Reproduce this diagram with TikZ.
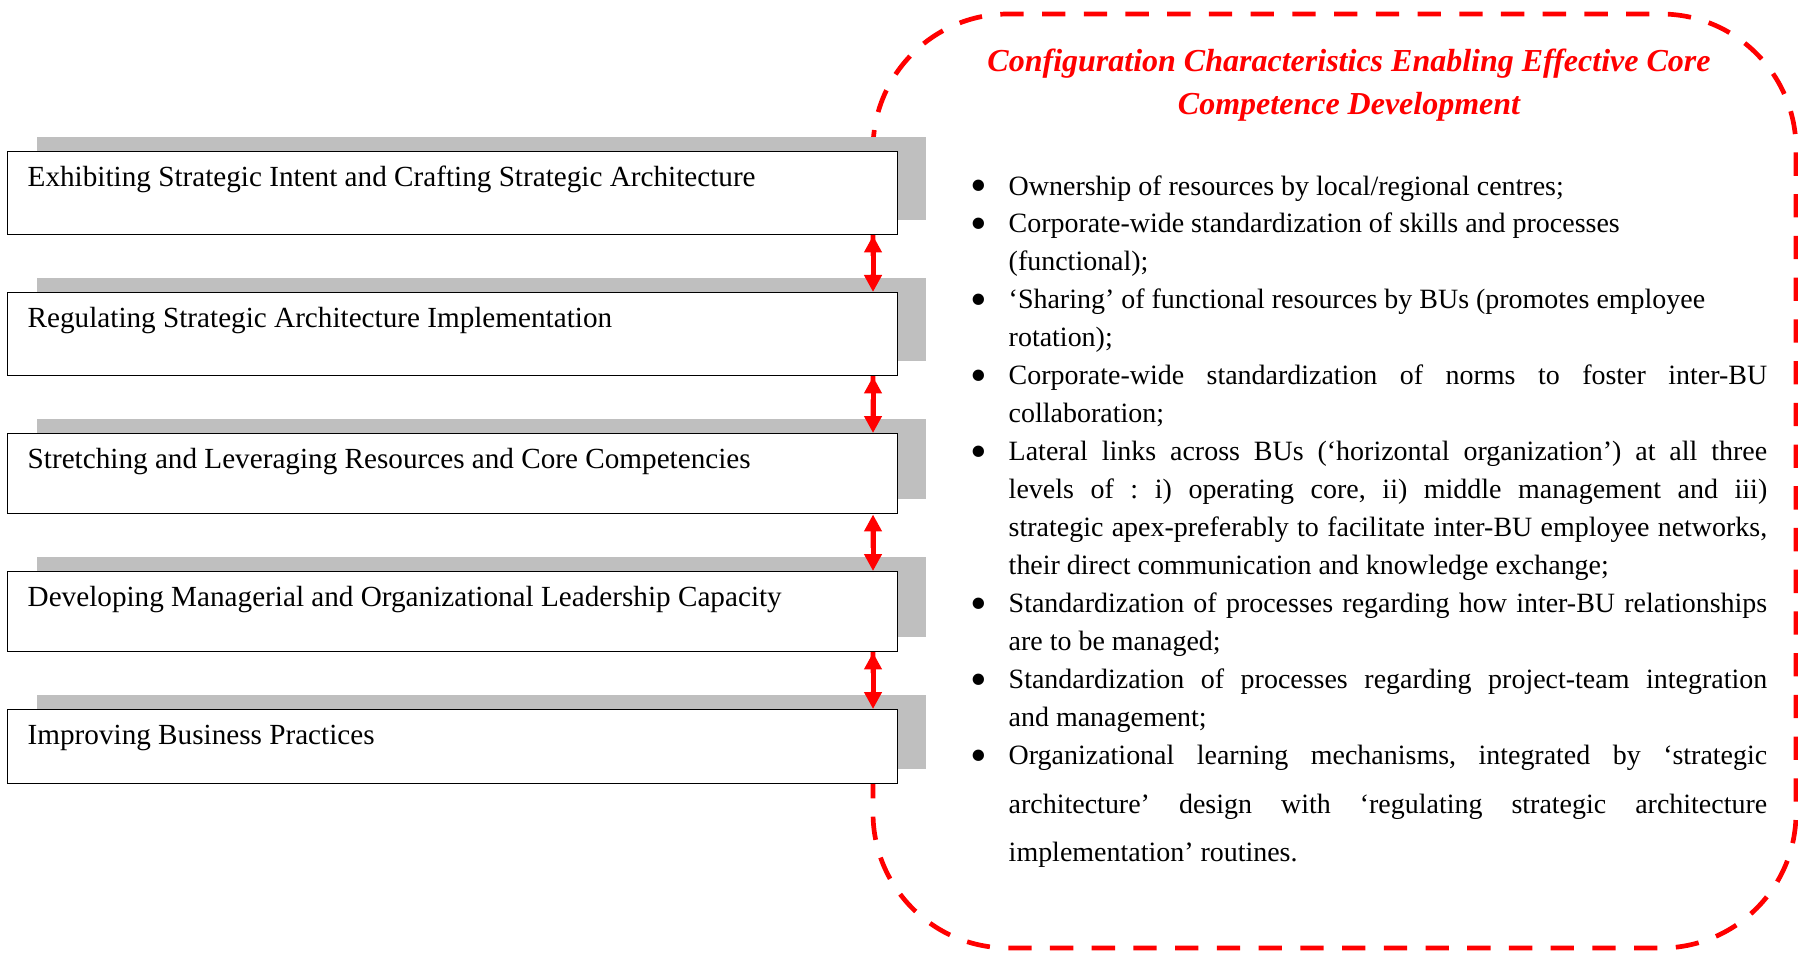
\documentclass[tikz,border=0pt]{standalone}
\usepackage{fontspec}
\usepackage{graphicx}
\setmainfont{Liberation Serif}
\usetikzlibrary{arrows.meta,shadows}
% plain word spacing, as in the source document
\newcommand{\plainspacing}{\frenchspacing\spaceskip=.25em plus .2em minus .08em\relax\xspaceskip=0pt\relax}
\tikzset{
  stagebox/.style={draw, fill=white, anchor=north west,
    font=\fontsize{8.3}{10}\selectfont, text width=8.49cm,
    inner xsep=2mm, inner ysep=0pt, text height=3.5mm, text depth=#1,
    execute at begin node=\plainspacing,
    drop shadow={shadow xshift=2.9mm, shadow yshift=1.5mm, fill=gray!50, opacity=1}},
  linkarrow/.style={{Triangle[length=1.7mm, width=1.7mm]}-{Triangle[length=1.7mm, width=1.7mm]},
    red, line width=0.5mm},
  configframe/.style={draw=red, line width=0.47mm, dash pattern=on 2.33mm off 1.84mm,
    rounded corners=13.5mm},
  configtitle/.style={anchor=base, inner sep=0pt, text width=8cm, text=red,
    font=\fontsize{9.1}{12.4}\selectfont\bfseries\itshape,
    execute at begin node=\plainspacing\centering},
  configlist/.style={anchor=base west, inner sep=0pt, text width=7.96cm,
    font=\fontsize{7.95}{10.8}\selectfont, execute at begin node=\plainspacing},
}
% one bullet point with hanging lines
\newcommand{\fitem}[1]{\noindent\hangindent=3.8mm\hangafter=1%
  \makebox[3.8mm][l]{\raisebox{-1.9pt}{\scalebox{1.7}{\textbullet}}}#1\par}
% a justified line
\newcommand{\jline}[1]{\makebox[7.58cm][s]{#1}}

\begin{document}
\begin{tikzpicture}[x=0.01cm, y=-0.01cm]
  \useasboundingbox (0,0) rectangle (1798,954);
  % dashed frame round the characteristics
  \draw[configframe] (873,14) rectangle (1796,948);
  % stages on the left
  \node[stagebox=4.8mm] (s1) at (7,151) {Exhibiting Strategic Intent and Crafting Strategic Architecture};
  \node[stagebox=4.8mm] (s2) at (7,292) {Regulating Strategic Architecture Implementation};
  \node[stagebox=4.5mm] (s3) at (7,433) {Stretching and Leveraging Resources and Core Competencies};
  \node[stagebox=4.5mm] (s4) at (7,571) {Developing Managerial and Organizational Leadership Capacity};
  \node[stagebox=3.9mm] (s5) at (7,709) {Improving Business Practices};
  \coordinate (axis) at (873,0);
  \foreach \a/\b in {s1/s2,s2/s3,s3/s4,s4/s5}
    \draw[linkarrow] (\a.south -| axis) -- (\b.north -| axis);
  % title and list
  \node[configtitle] (title) at (1349,71) {Configuration Characteristics Enabling Effective Core\par Competence Development\par};
  \node[configlist] (feats) at (970,195) {%
    \fitem{Ownership of resources by local/regional centres;}
    \fitem{Corporate-wide standardization of skills and processes\newline(functional);}
    \fitem{‘Sharing’ of functional resources by BUs (promotes employee\newline rotation);}
    \fitem{\jline{Corporate-wide standardization of norms to foster inter-BU}\newline collaboration;}
    \fitem{\jline{Lateral links across BUs (‘horizontal organization’) at all three}\newline
      \jline{levels of : i) operating core, ii) middle management and iii)}\newline
      \jline{strategic apex-preferably to facilitate inter-BU employee networks,}\newline
      their direct communication and knowledge exchange;}
    \fitem{\jline{Standardization of processes regarding how inter-BU relationships}\newline are to be managed;}
    \fitem{\jline{Standardization of processes regarding project-team integration}\newline and management;}
    {\fontsize{7.95}{13.8}\selectfont\vskip-3pt
    \fitem{\jline{Organizational learning mechanisms, integrated by ‘strategic}\newline
      \jline{architecture’ design with ‘regulating strategic architecture}\newline
      implementation’ routines.}}
  };
\end{tikzpicture}
\end{document}
